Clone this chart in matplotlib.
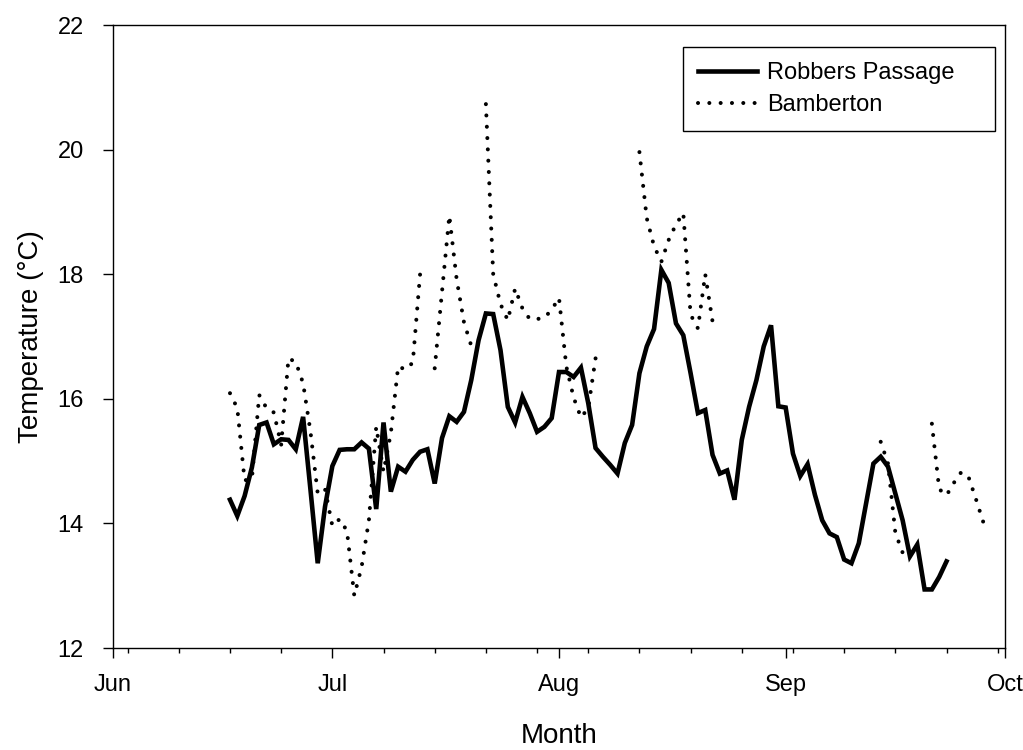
import numpy as np
import pandas as pd
import matplotlib
matplotlib.use("Agg")
import matplotlib.pyplot as plt
import matplotlib.dates as mdates

plt.rcParams["font.family"] = ["Liberation Sans", "DejaVu Sans"]

nan = np.nan

# daily mean water temperature (°C), first day 17 June
start_date = "2003-06-17"
robbers_passage = [
    14.38, 14.12, 14.44, 14.90, 15.58, 15.62, 15.27, 15.35, 15.34, 15.19,
    15.71, 14.55, 13.36, 14.27, 14.92, 15.18, 15.19, 15.19, 15.30, 15.20,
    14.23, 15.62, 14.51, 14.91, 14.83, 15.02, 15.15, 15.19, 14.64, 15.37,
    15.72, 15.63, 15.79, 16.30, 16.94, 17.37, 17.36, 16.78, 15.87, 15.62,
    16.03, 15.77, 15.47, 15.55, 15.69, 16.43, 16.43, 16.35, 16.50, 15.93,
    15.21, 15.07, 14.94, 14.80, 15.29, 15.58, 16.41, 16.84, 17.12, 18.07,
    17.86, 17.21, 17.02, 16.41, 15.77, 15.82, 15.10, 14.80, 14.85, 14.38,
    15.34, 15.87, 16.30, 16.84, 17.18, 15.88, 15.86, 15.12, 14.76, 14.95,
    14.46, 14.05, 13.84, 13.78, 13.42, 13.36, 13.68, 14.32, 14.96, 15.07,
    14.91, 14.48, 14.05, 13.47, 13.66, 12.94, 12.94, 13.14, 13.39,
]
bamberton = [
    16.09, 15.85, 14.69, 14.72, 16.06, 15.85, 15.78, 15.26, 16.65, 16.59,
    16.25, 15.48, 14.48, 14.55, 13.96, 14.07, 13.88, 12.84, 13.30, 14.05,
    15.55, 14.83, 15.45, 16.52, 16.47, 16.58, 18.00, nan, 16.49, 17.72,
    18.94, 17.92, 17.23, 16.85, nan, 20.73, 18.00, 17.52, 17.26, 17.77,
    17.45, 17.28, 17.28, 17.30, 17.43, 17.62, 16.52, 16.02, 15.70, 15.85,
    16.65, nan, nan, nan, nan, nan, 19.96, 18.90, 18.45, 18.20,
    18.55, 18.80, 18.98, 17.35, 17.13, 18.00, 17.24, nan, nan, nan,
    nan, nan, nan, nan, nan, nan, nan, nan, nan, nan,
    nan, nan, nan, nan, nan, nan, nan, nan, nan, 15.31,
    14.96, 13.85, 13.53, nan, nan, nan, 15.60, 14.55, 14.45, 14.65,
    14.82, 14.75, 14.40, 14.03, 14.03,
]

rp_dates = pd.date_range(start_date, periods=len(robbers_passage), freq="D")
bam_dates = pd.date_range(start_date, periods=len(bamberton), freq="D")

fig = plt.figure(figsize=(10.23, 7.5), dpi=100)
ax = fig.add_axes([113 / 1023, 102 / 750, 892 / 1023, 623 / 750])

ax.plot(rp_dates, robbers_passage, color="black", lw=3.3, solid_joinstyle="miter",
        label="Robbers Passage")
ax.plot(bam_dates, bamberton, color="black", lw=2.9, linestyle=(0, (0.01, 2.8)),
        dash_capstyle="round", label="Bamberton")

ax.set_xlim(pd.Timestamp("2003-06-01"), pd.Timestamp("2003-10-01"))
ax.set_ylim(12, 22)
ax.set_yticks([12, 14, 16, 18, 20, 22])

ax.xaxis.set_major_locator(mdates.MonthLocator())
ax.xaxis.set_major_formatter(mdates.DateFormatter("%b"))
ax.xaxis.set_minor_locator(mdates.WeekdayLocator(byweekday=mdates.TU))

ax.tick_params(axis="both", which="major", direction="out", length=7, width=1,
               labelsize=17)
ax.tick_params(axis="x", which="major", pad=12)
ax.tick_params(axis="y", which="major", pad=14)
ax.tick_params(axis="x", which="minor", direction="out", length=3.5, width=1)
for s in ax.spines.values():
    s.set_linewidth(1.0)

ax.set_xlabel("Month", fontsize=20, labelpad=19)
ax.set_ylabel("Temperature (°C)", fontsize=20, labelpad=10)

# legend box spans a fixed width, content sits to the left like the original
leg = ax.legend(loc="upper right", bbox_to_anchor=(0.639, 0.5, 0.350, 0.465),
                mode="expand", borderaxespad=0,
                fontsize=17, frameon=True, fancybox=False, edgecolor="black",
                framealpha=1, handlelength=2.5, handletextpad=0.4,
                labelspacing=0.42, borderpad=0.65)
leg.get_frame().set_linewidth(1.0)

fig.savefig("out.png", dpi=100)
plt.close(fig)
